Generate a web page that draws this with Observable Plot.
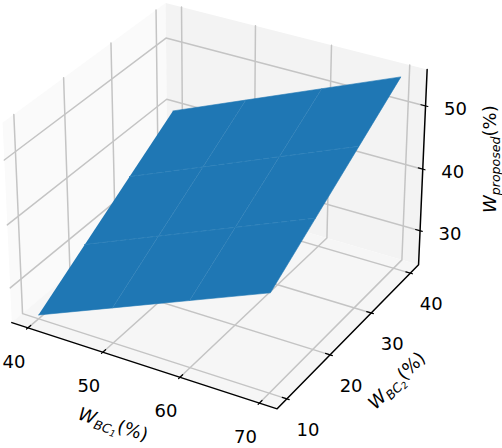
<!DOCTYPE html>
<html>
<head>
<meta charset="utf-8">
<script src="https://cdn.jsdelivr.net/npm/d3@7"></script>
<script src="https://cdn.jsdelivr.net/npm/@observablehq/plot@0.6"></script>
<style>html,body{margin:0;padding:0;background:#fff}svg{display:block}</style>
</head>
<body>
<div id="chart"></div>
<script>
// Data
const bc1Values = [40, 50, 60, 70];
const bc2Values = [10, 20, 30, 40];
const proposedValues = [
  [25, 30, 35, 40],
  [30, 35, 40, 45],
  [35, 40, 45, 50],
  [40, 45, 50, 55]
];
const proposedTicks = [30, 40, 50];
const xLim = [37.8125, 72.1875];
const yLim = [7.8125, 42.1875];
const zLim = [24.375, 55.625];

// matplotlib-like view: elev 30, azim -60, distance 10, box aspect 4:4:3
const SIDE = 1.143, TALL = 0.857;
function view(x, y, z) {
  const X = ((x - xLim[0]) / (xLim[1] - xLim[0]) - 0.5) * SIDE;
  const Y = ((y - yLim[0]) / (yLim[1] - yLim[0]) - 0.5) * SIDE;
  const Z = ((z - zLim[0]) / (zLim[1] - zLim[0]) - 0.5) * TALL;
  const r = 0.866025 * X + 0.5 * Y;
  const u = -0.25 * X + 0.433013 * Y + 0.866025 * Z;
  const d = 0.433013 * X - 0.75 * Y + 0.5 * Z;
  return [r / (10 - d), u / (10 - d)];
}
const px = d => view(d.x, d.y, d.z)[0];
const py = d => view(d.x, d.y, d.z)[1];
const P = (x, y, z, key) => ({x, y, z, key});
const [x0, x1] = xLim, [y0, y1] = yLim, [z0, z1] = zLim;

const S = 2660, CX = 218.3, CY = 196;

// Panes
const quad = (key, a) => a.map(p => P(p[0], p[1], p[2], key));
const paneLeft = quad("l", [[x0,y0,z0],[x0,y1,z0],[x0,y1,z1],[x0,y0,z1]]);
const paneBack = quad("b", [[x0,y1,z0],[x1,y1,z0],[x1,y1,z1],[x0,y1,z1]]);
const paneFloor = quad("f", [[x0,y0,z0],[x1,y0,z0],[x1,y1,z0],[x0,y1,z0]]);

// Grid
const grid = [];
bc1Values.forEach(v => { const k = "x" + v; grid.push(P(v,y0,z0,k), P(v,y1,z0,k), P(v,y1,z1,k)); });
bc2Values.forEach(v => { const k = "y" + v; grid.push(P(x1,v,z0,k), P(x0,v,z0,k), P(x0,v,z1,k)); });
proposedTicks.forEach(v => { const k = "z" + v; grid.push(P(x1,y1,v,k), P(x0,y1,v,k), P(x0,y0,v,k)); });

// Axis lines and ticks
const axisLine = [P(x0,y0,z0,"a"), P(x1,y0,z0,"a"), P(x1,y1,z0,"a"), P(x1,y1,z1,"a")];
const dX = (x1 - x0) / 12, dY = (y1 - y0) / 12;
const ticks = [];
bc1Values.forEach(v => { const k = "tx" + v; ticks.push(P(v,y0+0.2*dY,z0,k), P(v,y0-0.1*dY,z0,k)); });
bc2Values.forEach(v => { const k = "ty" + v; ticks.push(P(x1-0.2*dX,v,z0,k), P(x1+0.1*dX,v,z0,k)); });
proposedTicks.forEach(v => { const k = "tz" + v; ticks.push(P(x1-0.2*dX,y1,v,k), P(x1+0.1*dX,y1,v,k)); });

// Surface faces and the faint seams between them
const faces = [];
for (let i = 0; i < bc1Values.length - 1; i++) for (let j = 0; j < bc2Values.length - 1; j++) {
  const k = i + "-" + j;
  faces.push(
    P(bc1Values[i], bc2Values[j], proposedValues[i][j], k),
    P(bc1Values[i+1], bc2Values[j], proposedValues[i+1][j], k),
    P(bc1Values[i+1], bc2Values[j+1], proposedValues[i+1][j+1], k),
    P(bc1Values[i], bc2Values[j+1], proposedValues[i][j+1], k)
  );
}
const seamsAlongX = [], seamsAlongY = [];
[1, 2].forEach(j => bc1Values.forEach((v, i) => seamsAlongX.push(P(v, bc2Values[j], proposedValues[i][j], "j" + j))));
[1, 2].forEach(i => bc2Values.forEach((v, j) => seamsAlongY.push(P(bc1Values[i], v, proposedValues[i][j], "i" + i))));

// Rich math-style labels
function rich(parts) {
  return function(index, scales, values, dims, ctx, next) {
    const g = next(index, scales, values, dims, ctx);
    d3.select(g).selectAll("text").each(function() {
      const t = d3.select(this); t.text(null);
      parts.forEach(p => {
        t.append("tspan").text(p.t).attr("font-size", p.s).attr("font-style", p.i ? "italic" : "normal")
          .attr("dy", p.dy || null);
      });
    });
    return g;
  };
}

const tickText = {fontFamily: "DejaVu Sans", fontSize: 18, fill: "#000", textAnchor: "middle"};
const labelText = {fontFamily: "DejaVu Sans", fontSize: 18, fill: "#000", textAnchor: "middle"};

const chart = Plot.plot({
  width: 502, height: 448,
  margin: 0,
  style: {background: "#fff"},
  x: {domain: [-CX / S, (502 - CX) / S], range: [0, 502], axis: null},
  y: {domain: [CY / S, (CY - 448) / S], range: [0, 448], axis: null},
  marks: [
    Plot.line(paneLeft, {x: px, y: py, fill: "#fafafa", stroke: "none"}),
    Plot.line(paneBack, {x: px, y: py, fill: "#f3f3f3", stroke: "none"}),
    Plot.line(paneFloor, {x: px, y: py, fill: "#f6f6f6", stroke: "none"}),
    Plot.line(grid, {x: px, y: py, z: "key", stroke: "#c4c4c4", strokeWidth: 1.5}),
    Plot.line(faces, {x: px, y: py, z: "key", fill: "#1f77b4", stroke: "#1f77b4", strokeWidth: 0.6}),
    Plot.line(seamsAlongX, {x: px, y: py, z: "key", stroke: "#3a88bf", strokeWidth: 0.7, strokeDasharray: "5,4"}),
    Plot.line(seamsAlongY, {x: px, y: py, z: "key", stroke: "#3a88bf", strokeWidth: 0.5, strokeDasharray: "1.5,2.5"}),
    Plot.line(axisLine, {x: px, y: py, z: "key", stroke: "#000", strokeWidth: 1.5}),
    Plot.line(ticks, {x: px, y: py, z: "key", stroke: "#000", strokeWidth: 1.2}),
    Plot.text(bc1Values, {x: v => view(v,y0,z0)[0], y: v => view(v,y0,z0)[1], text: String, dx: -14, dy: 34, ...tickText}),
    Plot.text(bc2Values, {x: v => view(x1,v,z0)[0], y: v => view(x1,v,z0)[1], text: String, dx: 21, dy: 31, ...tickText}),
    Plot.text(proposedTicks, {x: v => view(x1,y1,v)[0], y: v => view(x1,y1,v)[1], text: String, dx: 30, dy: 3, ...tickText}),
    Plot.text([P(55,y0,z0)], {x: px, y: py, text: () => "WBC1(%)", dx: -28, dy: 60, rotate: 18, ...labelText,
      render: rich([{t:"W",s:18,i:1},{t:"BC",s:12.6,i:1,dy:4},{t:"1",s:9,i:1,dy:2},{t:"(%)",s:18,dy:-6}])}),
    Plot.text([P(x1,25,z0)], {x: px, y: py, text: () => "WBC2(%)", dx: 46, dy: 47, rotate: -45, ...labelText,
      render: rich([{t:"W",s:18,i:1},{t:"BC",s:12.6,i:1,dy:4},{t:"2",s:9,i:1,dy:2},{t:"(%)",s:18,dy:-6}])}),
    Plot.text([P(x1,y1,40)], {x: px, y: py, text: () => "Wproposed(%)", dx: 67, dy: -10, rotate: -90, ...labelText,
      render: rich([{t:"W",s:18,i:1},{t:"proposed",s:12.6,i:1,dy:4},{t:"(%)",s:18,dy:-4}])})
  ]
});
document.getElementById("chart").appendChild(chart);
</script>
</body>
</html>
